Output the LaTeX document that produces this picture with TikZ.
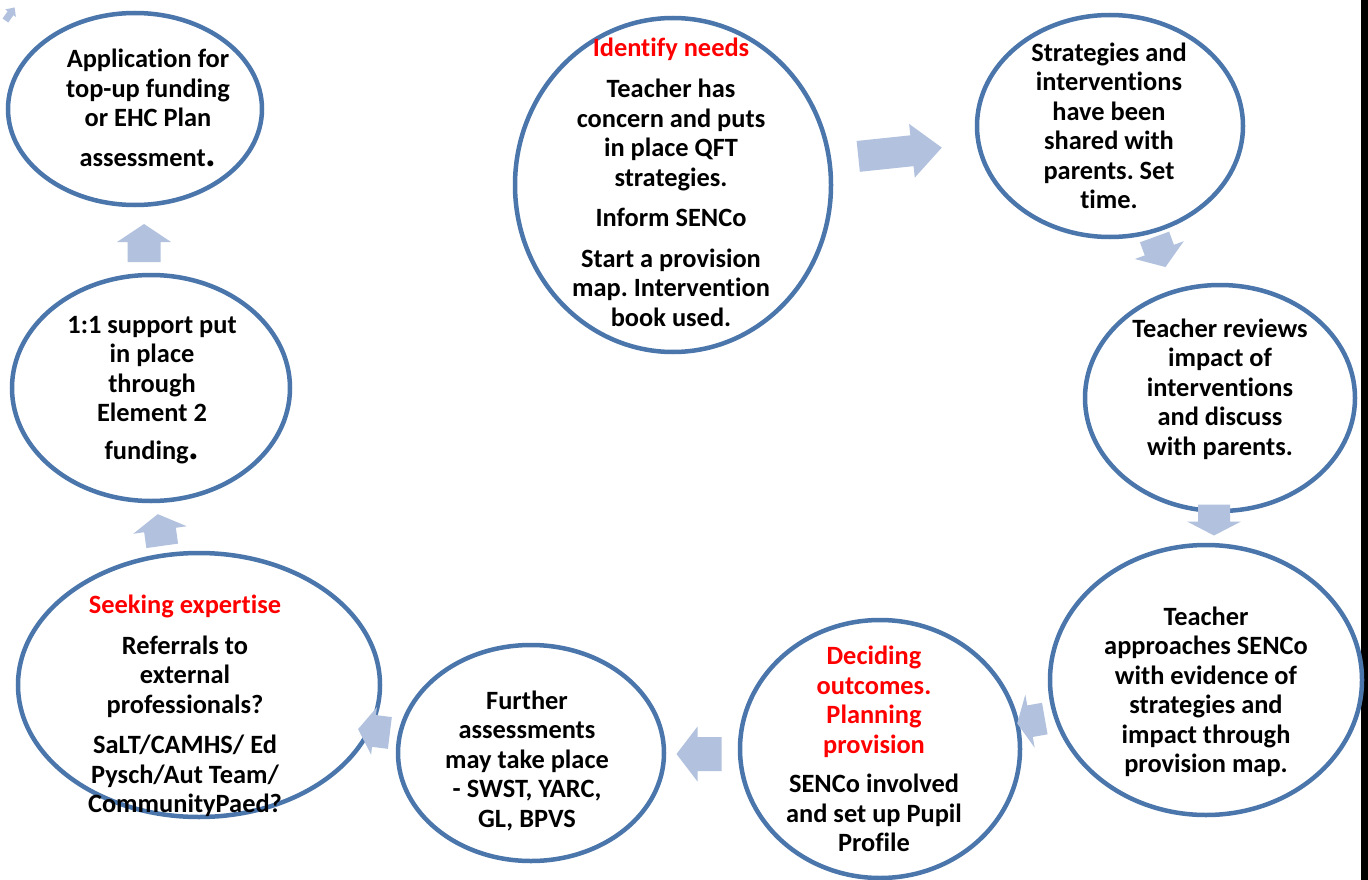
\documentclass[tikz,border=0pt]{standalone}
\usepackage{fontspec}
\setmainfont{Carlito}[Ligatures=NoCommon]
\usepackage{tikz}
\usetikzlibrary{shapes.geometric}
\definecolor{stageblue}{RGB}{74,118,172}
\definecolor{arrowfill}{RGB}{178,194,222}
\definecolor{headred}{RGB}{255,0,0}
\frenchspacing
% block arrow: x, y, angle, length, shaft, head, head length
\newcommand{\flowarrow}[7]{%
  \begin{scope}[shift={(#1,#2)},rotate=#3]
    \fill[arrowfill] (-#4/2,-#5/2) -- (#4/2-#7,-#5/2) -- (#4/2-#7,-#6/2) -- (#4/2,0)
      -- (#4/2-#7,#6/2) -- (#4/2-#7,#5/2) -- (-#4/2,#5/2) -- cycle;
  \end{scope}}
\tikzset{
  stage/.style={ellipse, draw=stageblue, line width=4.5pt, inner sep=0pt},
  stagetext/.style={align=center, inner sep=0pt, font=\fontsize{26.4}{29.5}\selectfont\bfseries},
}
\newcommand{\bigdot}{{\fontsize{40}{29.5}\selectfont.}}

\begin{document}
\begin{tikzpicture}[x=1pt,y=-1pt]
\useasboundingbox (0,0) rectangle (1368,880);
\fill[white] (0,0) rectangle (1368,880);
\fill[black] (1361,0) rectangle (1368,880);

% stages
\node[stage, minimum width=254pt, minimum height=192pt] (apply) at (135,109) {};
\node[stage, minimum width=278pt, minimum height=226pt] (support) at (151,388) {};
\node[stage, minimum width=362pt, minimum height=264pt] (expertise) at (199,685) {};
\node[stage, minimum width=266pt, minimum height=216pt] (assess) at (531,753) {};
\node[stage, minimum width=280pt, minimum height=258pt] (outcomes) at (880,749) {};
\node[stage, minimum width=312pt, minimum height=270pt] (approach) at (1206,680) {};
\node[stage, minimum width=270pt, minimum height=226pt] (review) at (1220,398) {};
\node[stage, minimum width=266pt, minimum height=222pt] (share) at (1110,126) {};
\node[stage, minimum width=316pt, minimum height=334pt] (identify) at (673,185) {};

% texts
\node[stagetext] (applytext) at (148,108) {Application for\\top-up funding\\or EHC Plan\\[10pt]assessment\bigdot};
\node[stagetext] (supporttext) at (152,390) {1:1 support put\\in place\\through\\Element 2\\[8pt]funding\bigdot};
\node[stagetext] (expertisetext) at (185,706) {\textcolor{headred}{Seeking expertise}\\[11pt]Referrals to\\external\\professionals?\\[11pt]SaLT/CAMHS/ Ed\\Pysch/Aut Team/\\CommunityPaed?};
\node[stagetext] (assesstext) at (527,761) {Further\\assessments\\may take place\\- SWST, YARC,\\GL, BPVS};
\node[stagetext] (outcomestext) at (874,749) {\textcolor{headred}{Deciding}\\\textcolor{headred}{outcomes.}\\\textcolor{headred}{Planning}\\\textcolor{headred}{provision}\\[10pt]SENCo involved\\and set up Pupil\\Profile};
\node[stagetext] (approachtext) at (1206,692) {Teacher\\approaches SENCo\\with evidence of\\strategies and\\impact through\\provision map.};
\node[stagetext] (reviewtext) at (1220,389) {Teacher reviews\\impact of\\interventions\\and discuss\\with parents.};
\node[stagetext] (sharetext) at (1109,126) {Strategies and\\interventions\\have been\\shared with\\parents. Set\\time.};
\node[stagetext] (identifytext) at (671,182) {\textcolor{headred}{Identify needs}\\[12pt]Teacher has\\concern and puts\\in place QFT\\strategies.\\[11pt]Inform SENCo\\[11pt]Start a provision\\map. Intervention\\book used.};

% block arrows
\flowarrow{900}{152}{6}{84}{31}{54}{30}
\flowarrow{1160}{252}{-70}{32}{31}{52}{18}
\flowarrow{1214}{520}{-90}{31}{32}{54}{14}
\flowarrow{1031}{721}{190}{28}{32}{54}{13}
\flowarrow{699}{754}{180}{45}{34}{55}{21}
\flowarrow{374}{731}{173}{32}{32}{48}{16}
\flowarrow{160}{530}{98}{32}{32}{54}{16}
\flowarrow{144}{243}{90}{38}{33}{54}{18}
\flowarrow{10}{14}{55}{16}{7}{13}{7}
\end{tikzpicture}
\end{document}
